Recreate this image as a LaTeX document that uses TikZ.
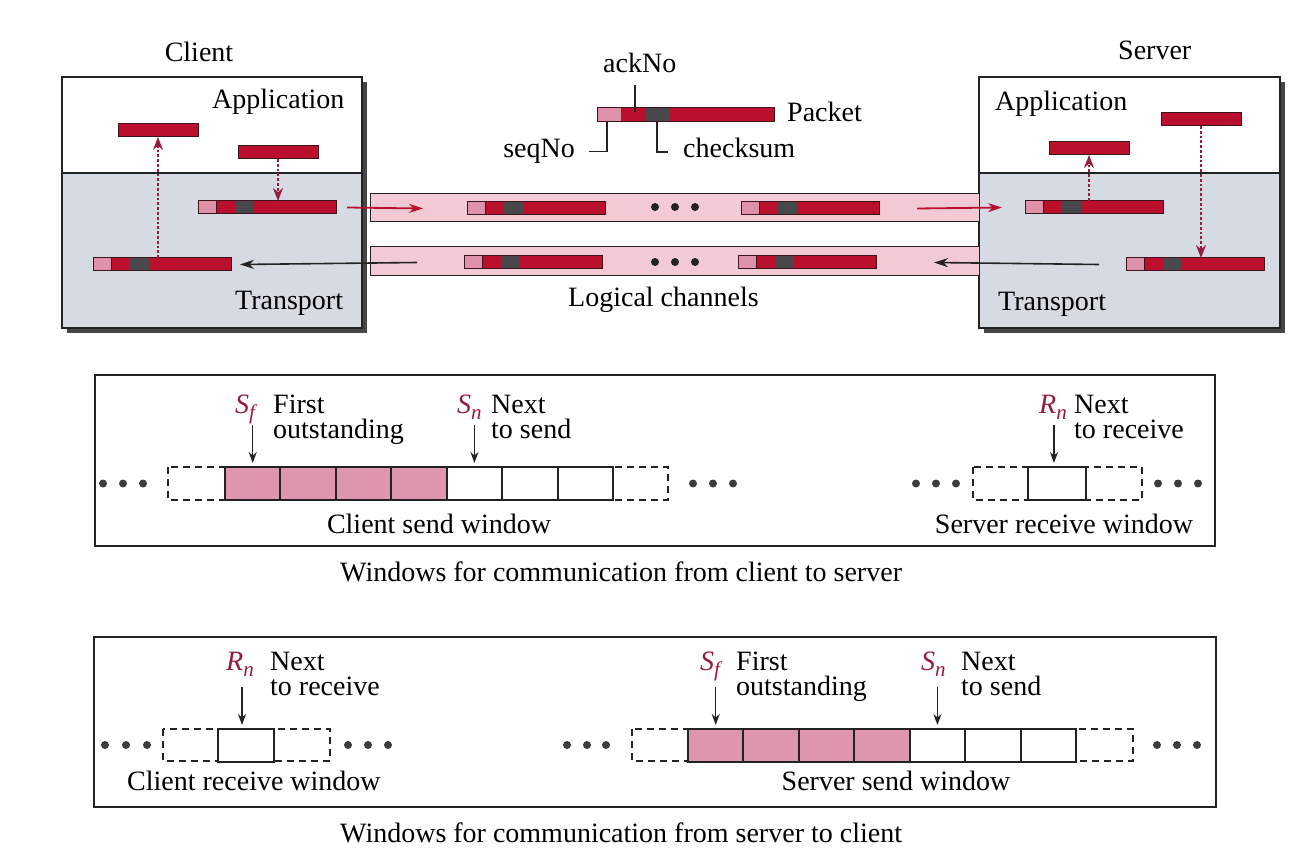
\documentclass[tikz,border=0pt]{standalone}
\usepackage{fontspec}
\setmainfont{Liberation Serif}
\usetikzlibrary{arrows.meta}
\definecolor{pktred}{RGB}{186,16,46}
\definecolor{pktpink}{RGB}{222,145,168}
\definecolor{pktgray}{RGB}{72,72,76}
\definecolor{pktline}{RGB}{60,20,25}
\definecolor{chanpink}{RGB}{241,202,212}
\definecolor{cellpink}{RGB}{221,150,172}
\definecolor{transp}{RGB}{214,219,227}
\definecolor{labelred}{RGB}{150,28,60}
\definecolor{linegray}{RGB}{35,35,35}
\definecolor{shadowgray}{RGB}{70,70,72}
\definecolor{dotc}{RGB}{60,60,60}
\newcommand\ptrlab[2]{\textcolor{labelred}{\textit{#1}\raisebox{-0.5ex}{\fontsize{21}{21}\selectfont\textit{#2}}}}
\newcommand\segpkt[5]{%
  \node[pkt, minimum width=#4pt] (#1) at (#2,#3) {};
  \fill[pktpink] (#1.north west) rectangle ([xshift=#5pt]#1.south west);
  \fill[pktgray] ([xshift=2*#5pt]#1.north west) rectangle ([xshift=3*#5pt]#1.south west);
  \draw[pktline, line width=0.8pt] ([xshift=#5pt]#1.north west) -- ([xshift=#5pt]#1.south west);
  \draw[pktline, line width=1pt] (#1.north west) rectangle (#1.south east);
}
\begin{document}
\begin{tikzpicture}[x=1pt,y=-1pt,
  lbl/.style={font=\fontsize{28}{32}\selectfont, inner sep=0pt, text=black},
  lbl2/.style={font=\fontsize{28}{25}\selectfont, inner sep=0pt, text=black, align=left, anchor=base west},
  pkt/.style={draw=pktline, line width=1pt, fill=pktred, minimum height=13pt, inner sep=0pt, outer sep=0pt, anchor=north west},
  apppkt/.style={pkt, minimum width=80pt},
  cellbox/.style={draw=linegray, line width=2pt, minimum height=33pt, inner sep=0pt, outer sep=0pt, anchor=north west},
  dashbox/.style={draw=linegray, line width=1.3pt, dash pattern=on 7pt off 5pt},
  winbox/.style={draw=linegray, line width=1.6pt},
  hostbox/.style={draw=linegray, line width=1.5pt},
  chan/.style={draw=linegray, line width=1pt, fill=chanpink},
  ptr/.style={draw=linegray, line width=1.5pt, -{Stealth[length=11pt,width=8pt]}},
  dotarrow/.style={draw=labelred, line width=2.8pt, dash pattern=on 2.8pt off 2pt, -{Stealth[length=13pt,width=10pt,fill=pktred]}},
  redarrow/.style={draw=pktred, line width=1.8pt, -{Stealth[length=14pt,width=9pt]}},
  blkarrow/.style={draw=linegray, line width=1.6pt, -{Stealth[length=14pt,width=9pt]}}
]
\useasboundingbox[fill=white] (0,0) rectangle (1310,861);

% ---------- hosts ----------
\fill[shadowgray] (67,82) rectangle (367,333);
\fill[white] (62,77) rectangle (362,173);
\fill[transp] (62,173) rectangle (362,328);
\draw[hostbox] (62,77) rectangle (362,328);
\draw[hostbox] (62,173) -- (362,173);

\fill[shadowgray] (984,82) rectangle (1285,333);
\fill[white] (979,77) rectangle (1280,173);
\fill[transp] (979,173) rectangle (1280,328);
\draw[hostbox] (979,77) rectangle (1280,328);
\draw[hostbox] (979,173) -- (1280,173);

\node[lbl, anchor=base] (client) at (199,62) {Client};
\node[lbl, anchor=base west] (capp) at (212,109) {Application};
\node[lbl, anchor=base west] (ctr) at (235,309) {Transport};
\node[lbl, anchor=base west] (server) at (1118,60) {Server};
\node[lbl, anchor=base west] (sapp) at (995,111) {Application};
\node[lbl, anchor=base west] (str) at (998,310) {Transport};

% ---------- channels ----------
\draw[chan] (370,194) rectangle (979,222);
\draw[chan] (370,247) rectangle (979,276);
\node[lbl, anchor=base west] (logch) at (568,307) {Logical channels};

% ---------- packets ----------
\node[apppkt] (cap1) at (118,124) {};
\node[apppkt] (cap2) at (238,146) {};
\segpkt{csend}{198}{201}{138}{18.7}
\segpkt{crecv}{93}{258}{138}{18.7}

\node[apppkt] (sap1) at (1049,142) {};
\node[apppkt] (sap2) at (1161,113) {};
\segpkt{srecv}{1025}{201}{138}{18.7}
\segpkt{ssend}{1126}{258}{138}{18.7}

\segpkt{ch1a}{467}{202}{138}{18.7}
\segpkt{ch1b}{741}{202}{138}{18.7}
\segpkt{ch2a}{464}{256}{138}{18.7}
\segpkt{ch2b}{738}{256}{138}{18.7}
\foreach \x in {655,675,695} {
  \fill[linegray] (\x,207) circle (4pt);
  \fill[linegray] (\x,262) circle (4pt);
}

% top packet with labels
\node[pkt, minimum width=177pt, minimum height=14pt] (tp) at (597,108) {};
\fill[pktpink] (tp.north west) rectangle ([xshift=24pt]tp.south west);
\fill[pktgray] ([xshift=48.5pt]tp.north west) rectangle ([xshift=73pt]tp.south west);
\draw[pktline, line width=1pt] (tp.north west) rectangle (tp.south east);
\node[lbl, anchor=base west] (ackno) at (603,73) {ackNo};
\node[lbl, anchor=base west] (packet) at (787,122) {Packet};
\node[lbl, anchor=base east] (seqno) at (575,158) {seqNo};
\node[lbl, anchor=base west] (chk) at (683,158) {checksum};
\coordinate (ackfoot) at ([yshift=-12pt]ackno.south);
\coordinate (ackx) at ([xshift=38pt,yshift=-4pt]tp.north west);
\draw[linegray, line width=1.2pt] (ackx) -- (ackx |- ackfoot);
\draw[linegray, line width=1.2pt] ([xshift=10pt]tp.south west) |- ([xshift=14pt]seqno.east);
\draw[linegray, line width=1.2pt] ([xshift=60pt]tp.south west) |- ([xshift=-15pt,yshift=-3.5pt]chk.west);

% ---------- arrows top ----------
\draw[dotarrow] (crecv.north -| cap1) -- (cap1.south);
\draw[dotarrow] (cap2.south) -- (csend.north -| cap2);
\draw[dotarrow] (srecv.north -| sap1) -- (sap1.south);
\draw[dotarrow] (sap2.south) -- (ssend.north -| sap2);

\draw[redarrow] ([xshift=11pt]csend.east) -- ([xshift=-44pt]ch1a.west);
\draw[redarrow] ([xshift=38pt]ch1b.east) -- ([xshift=-23pt]srecv.west);
\draw[blkarrow] ([xshift=-27pt]ssend.west) -- ([xshift=58pt]ch2b.east);
\draw[blkarrow] ([xshift=-47pt]ch2a.west) -- ([xshift=9pt]crecv.east);

% ---------- window 1 ----------
\draw[winbox] (95,375) rectangle (1215,546);
\foreach \x in {103,123,143,693,713,733,916,936,956,1158,1178,1198}
  \fill[dotc] (\x,483.5) circle (4pt);
\draw[dashbox] (168,467) rectangle (668,500);
\foreach \i/\f in {0/cellpink,1/cellpink,2/cellpink,3/cellpink,4/white,5/white,6/white}
  \node[cellbox, minimum width=55.43pt, fill=\f] (w1c\i) at ({225+55.43*\i},467) {};
\draw[dashbox] (973,467) rectangle (1142,500);
\node[cellbox, minimum width=58pt, fill=white] (w1r) at (1028,467) {};

\draw[ptr] ([yshift=42pt]w1c0.north) -- ([yshift=4pt]w1c0.north);
\draw[ptr] ([yshift=42pt]w1c4.north) -- ([yshift=4pt]w1c4.north);
\draw[ptr] ([yshift=42pt,xshift=-3pt]w1r.north) -- ([yshift=4pt,xshift=-3pt]w1r.north);

\node[lbl, anchor=base west] (w1sf) at (235,413) {\ptrlab{S}{f}};
\node[lbl2] (w1sft) at (273,438) {First\\outstanding};
\node[lbl, anchor=base west] (w1sn) at (457,413) {\ptrlab{S}{n}};
\node[lbl2] (w1snt) at (491,438) {Next\\to send};
\node[lbl, anchor=base west] (w1rn) at (1039,413) {\ptrlab{R}{n}};
\node[lbl2] (w1rnt) at (1074,438) {Next\\to receive};
\node[lbl, anchor=base] (w1csw) at (439,533) {Client send window};
\node[lbl, anchor=base] (w1srw) at (1064,533) {Server receive window};
\node[lbl, anchor=base west] (cap1txt) at (340,581) {Windows for communication from client to server};

% ---------- window 2 ----------
\draw[winbox] (94,637) rectangle (1216,807);
\foreach \x in {105,126,147,348,368,388,567,587,606,1157,1177,1197}
  \fill[dotc] (\x,745) circle (4pt);
\draw[dashbox] (163,729) rectangle (330,761);
\node[cellbox, minimum width=56pt, fill=white] (w2r) at (218,729) {};
\draw[dashbox] (632,729) rectangle (1133,761);
\foreach \i/\f in {0/cellpink,1/cellpink,2/cellpink,3/cellpink,4/white,5/white,6/white}
  \node[cellbox, minimum width=55.43pt, fill=\f] (w2c\i) at ({688+55.43*\i},729) {};

\draw[ptr] ([yshift=42pt,xshift=-4pt]w2r.north) -- ([yshift=4pt,xshift=-4pt]w2r.north);
\draw[ptr] ([yshift=42pt]w2c0.north) -- ([yshift=4pt]w2c0.north);
\draw[ptr] ([yshift=42pt]w2c4.north) -- ([yshift=4pt]w2c4.north);

\node[lbl, anchor=base west] (w2rn) at (226,670) {\ptrlab{R}{n}};
\node[lbl2] (w2rnt) at (270,695) {Next\\to receive};
\node[lbl, anchor=base west] (w2sf) at (700,670) {\ptrlab{S}{f}};
\node[lbl2] (w2sft) at (736,695) {First\\outstanding};
\node[lbl, anchor=base west] (w2sn) at (921,670) {\ptrlab{S}{n}};
\node[lbl2] (w2snt) at (961,695) {Next\\to send};
\node[lbl, anchor=base west] (w2crw) at (127,790) {Client receive window};
\node[lbl, anchor=base] (w2ssw) at (896,790) {Server send window};
\node[lbl, anchor=base west] (cap2txt) at (340,842) {Windows for communication from server to client};
\end{tikzpicture}
\end{document}
